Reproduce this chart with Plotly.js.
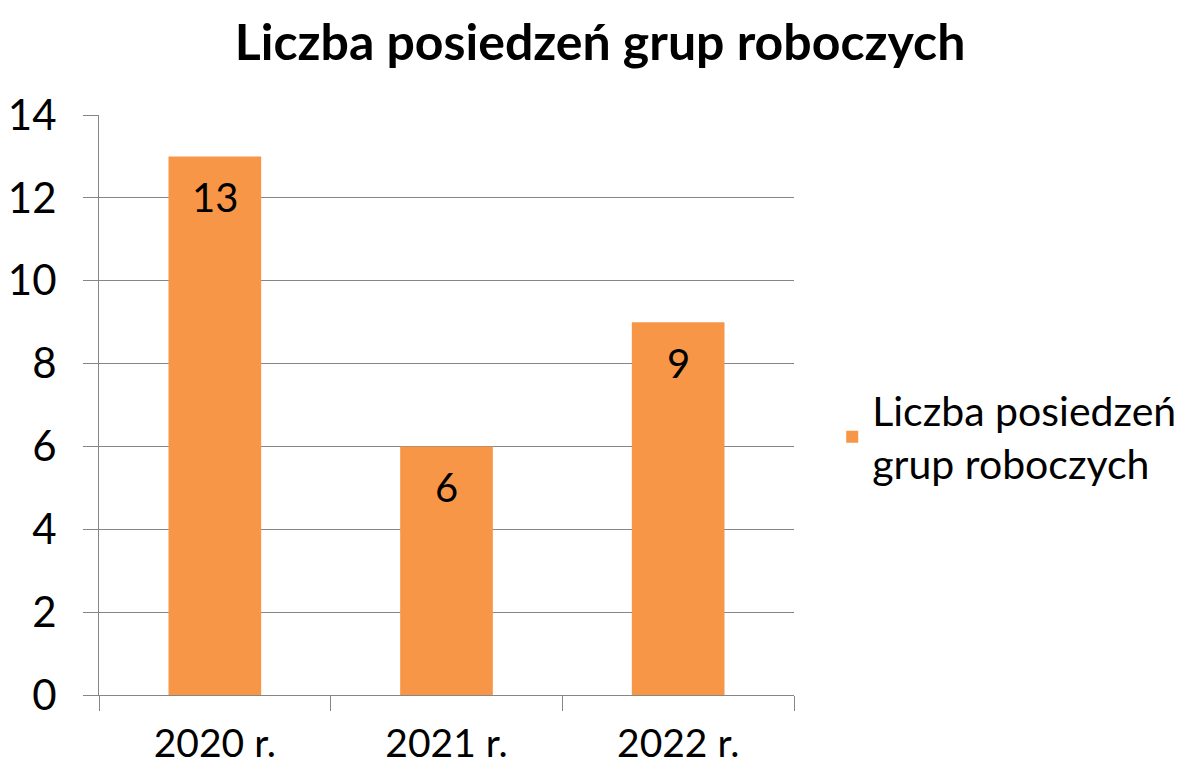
<!DOCTYPE html>
<html>
<head>
<meta charset="utf-8">
<script src="https://cdn.plot.ly/plotly-3.0.1.min.js"></script>
<style>html,body{margin:0;padding:0;background:#fff;}#chart{width:1193px;height:773px;}</style>
</head>
<body>
<div id="chart"></div>
<script>
const categories = ["2020 r.", "2021 r.", "2022 r."];
const values = [13, 6, 9];
const seriesName = "Liczba posiedzeń<br>grup roboczych";
const chartTitle = "Liczba posiedzeń grup roboczych";
const yTicks = [0, 2, 4, 6, 8, 10, 12, 14];

const FONT = "Lato, 'Open Sans', sans-serif";

const trace = {
  type: "bar",
  x: categories,
  y: values,
  name: seriesName,
  marker: {color: "#F79646"},
  showlegend: true,
  hoverinfo: "x+y"
};

const annotations = categories.map((c, i) => ({
  x: c, y: values[i], xref: "x", yref: "y",
  text: String(values[i]), showarrow: false,
  yanchor: "middle", yshift: -41,
  font: {family: FONT, size: 40, color: "#000"}
}));

const layout = {
  width: 1193, height: 773,
  margin: {l: 99, r: 399, t: 115, b: 78},
  paper_bgcolor: "#fff", plot_bgcolor: "#fff",
  title: {text: "<b>" + chartTitle + "</b>", x: 0.503, xanchor: "center", y: 0.945, yanchor: "middle",
          font: {family: FONT, size: 50, color: "#000"}},
  bargap: 0.6,
  xaxis: {
    type: "category", tickson: "boundaries", ticks: "outside", ticklen: 15, tickcolor: "#868686", tickwidth: 1,
    showline: true, linecolor: "#868686", linewidth: 1, showgrid: false, ticklabelstandoff: 14,
    tickfont: {family: FONT, size: 39, color: "#000"}, automargin: false
  },
  yaxis: {
    range: [0, 14], tickvals: yTicks, ticks: "outside", ticklen: 15, tickcolor: "#868686",
    showline: true, linecolor: "#868686", linewidth: 1, ticklabelstandoff: 18,
    showgrid: true, gridcolor: "#868686", gridwidth: 1, zeroline: false,
    tickfont: {family: FONT, size: 42, color: "#000"}, automargin: false
  },
  legend: {x: 1.055, xanchor: "left", y: 0.445, yanchor: "middle",
           font: {family: FONT, size: 41, color: "#000"}, bgcolor: "rgba(0,0,0,0)"},
  annotations: annotations
};

Plotly.newPlot("chart", [trace], layout, {displayModeBar: false, staticPlot: true});
</script>
</body>
</html>
